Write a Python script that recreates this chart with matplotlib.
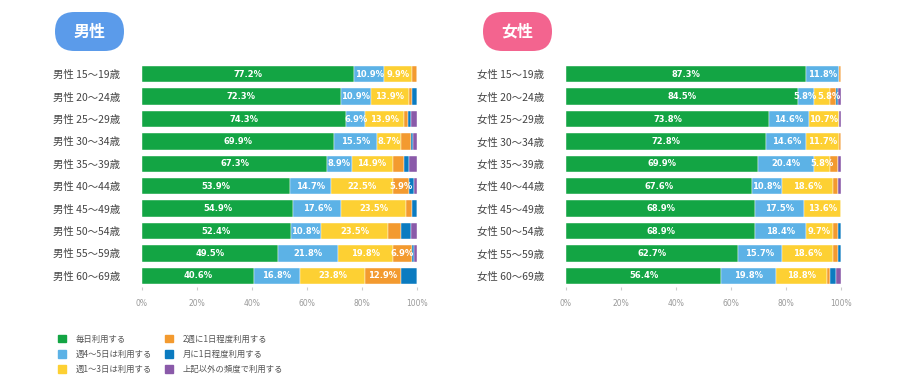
import numpy as np
import matplotlib.pyplot as plt
from matplotlib.patches import FancyBboxPatch

plt.rcParams['font.family'] = ['Noto Sans CJK JP', 'DejaVu Sans']

# 凡例 / 系列
series = ["毎日利用する", "週4〜5日は利用する", "週1〜3日は利用する",
          "2週に1日程度利用する", "月に1日程度利用する", "上記以外の頻度で利用する"]
colors = ["#13a544", "#5cb2e6", "#fdd033", "#f39a2f", "#0b7bc0", "#8a5aa9"]

ages = ["15〜19歳", "20〜24歳", "25〜29歳", "30〜34歳", "35〜39歳",
        "40〜44歳", "45〜49歳", "50〜54歳", "55〜59歳", "60〜69歳"]

# 男性 (各列: 年代順)
male_daily = [77.2, 72.3, 74.3, 69.9, 67.3, 53.9, 54.9, 52.4, 49.5, 40.6]
male_w45 = [10.9, 10.9, 6.9, 15.5, 8.9, 14.7, 17.6, 10.8, 21.8, 16.8]
male_w13 = [9.9, 13.9, 13.9, 8.7, 14.9, 22.5, 23.5, 23.5, 19.8, 23.8]
male_2w = [2.0, 1.0, 1.8, 3.6, 4.0, 5.9, 2.0, 4.8, 6.9, 12.9]
male_month = [0.0, 1.9, 1.0, 1.0, 1.9, 2.0, 2.0, 3.4, 1.0, 5.9]
male_other = [0.0, 0.0, 2.1, 1.3, 3.0, 1.0, 0.0, 2.1, 1.0, 0.0]

# 女性
female_daily = [87.3, 84.5, 73.8, 72.8, 69.9, 67.6, 68.9, 68.9, 62.7, 56.4]
female_w45 = [11.8, 5.8, 14.6, 14.6, 20.4, 10.8, 17.5, 18.4, 15.7, 19.8]
female_w13 = [0.0, 5.8, 10.7, 11.7, 5.8, 18.6, 13.6, 9.7, 18.6, 18.8]
female_2w = [0.9, 1.9, 0.0, 0.9, 2.9, 2.0, 0.0, 2.0, 2.0, 1.0]
female_month = [0.0, 1.0, 0.0, 0.0, 0.0, 0.0, 0.0, 1.0, 1.0, 2.0]
female_other = [0.0, 1.0, 0.9, 0.0, 1.0, 1.0, 0.0, 0.0, 0.0, 2.0]

W, H = 900, 385
fig = plt.figure(figsize=(9, 3.85), dpi=100)
renderer = fig.canvas.get_renderer()


def px_rect(x0, y0, x1, y1):
    # ピクセル座標 -> figure座標
    return [x0 / W, 1 - y1 / H, (x1 - x0) / W, (y1 - y0) / H]


def draw_panel(rect, prefix, data):
    ax = fig.add_axes(rect)
    y = np.arange(len(ages))
    raw = np.array(data, dtype=float)
    # 100%積み上げ (行ごとに正規化)
    share = raw / raw.sum(axis=0) * 100
    left = np.zeros(len(ages))
    labels = [[] for _ in ages]
    for k, col in enumerate(colors):
        ax.barh(y, share[k], left=left, height=0.74, color=col, edgecolor="white", linewidth=0.3)
        if k < 4:
            for i, (l, s, v) in enumerate(zip(left, share[k], raw[k])):
                if v >= 5:
                    t = ax.text(l + s / 2, i, f"{v:.1f}%", ha="center", va="center",
                                color="white", fontsize=6.0, fontweight="bold", family="DejaVu Sans")
                    labels[i].append(t)
        left += share[k]
    ax.set_xlim(0, 100)
    ax.set_ylim(len(ages) - 0.5, -0.5)

    # 重なるラベルは右へずらす (バー右端まで)
    px_per_unit = ax.get_window_extent(renderer).width / 100
    for row in labels:
        for a, b in zip(row[:-1], row[1:]):
            ea = a.get_window_extent(renderer)
            eb = b.get_window_extent(renderer)
            gap = ea.x1 + 1 - eb.x0
            if gap > 0:
                bx, by = b.get_position()
                half = eb.width / 2 / px_per_unit
                b.set_position((min(bx + gap / px_per_unit, 100 - half), by))
                eb = b.get_window_extent(renderer)
                gap = ea.x1 + 1 - eb.x0
                if gap > 0:
                    axx, ay = a.get_position()
                    a.set_position((axx - gap / px_per_unit, ay))

    ax.set_yticks(y)
    ax.set_yticklabels([f"{prefix} {a}" for a in ages], fontsize=7.5, color="#444444")
    ax.tick_params(axis="y", length=0, pad=16)
    ax.set_xticks([0, 20, 40, 60, 80, 100])
    ax.set_xticklabels([f"{t}%" for t in [0, 20, 40, 60, 80, 100]], fontsize=5.5, color="#999999",
                       family="DejaVu Sans")
    ax.tick_params(axis="x", length=2.5, color="#cccccc", pad=6)
    for s in ax.spines.values():
        s.set_visible(False)
    return ax


def badge(x0, y0, x1, y1, text, color):
    bx = fig.add_axes(px_rect(x0, y0, x1, y1))
    w, h = x1 - x0, y1 - y0
    bx.set_xlim(0, w)
    bx.set_ylim(0, h)
    bx.axis("off")
    bx.add_patch(FancyBboxPatch((0, 0), w, h, boxstyle=f"round,pad=0,rounding_size={h / 2}",
                                facecolor=color, edgecolor="none"))
    bx.text(w / 2, h / 2, text, ha="center", va="center", color="white",
            fontsize=11.5, fontweight="bold")


male = [male_daily, male_w45, male_w13, male_2w, male_month, male_other]
female = [female_daily, female_w45, female_w13, female_2w, female_month, female_other]

ax_m = draw_panel(px_rect(142, 63, 417, 287), "男性", male)
ax_f = draw_panel(px_rect(566, 63, 841, 287), "女性", female)

badge(55, 12, 124, 51, "男性", "#5b9bea")
badge(483, 12, 552, 51, "女性", "#f3648f")

handles = [plt.Rectangle((0, 0), 1, 1, color=c) for c in colors]
fig.legend(handles, series, ncol=2, loc="upper left", bbox_to_anchor=(50 / W, 1 - 327 / H),
           frameon=False, fontsize=6, handlelength=1.0, handleheight=1.0,
           labelspacing=0.75, columnspacing=1.5, handletextpad=1.2, labelcolor="#555555")

fig.savefig("out.png", dpi=100)
